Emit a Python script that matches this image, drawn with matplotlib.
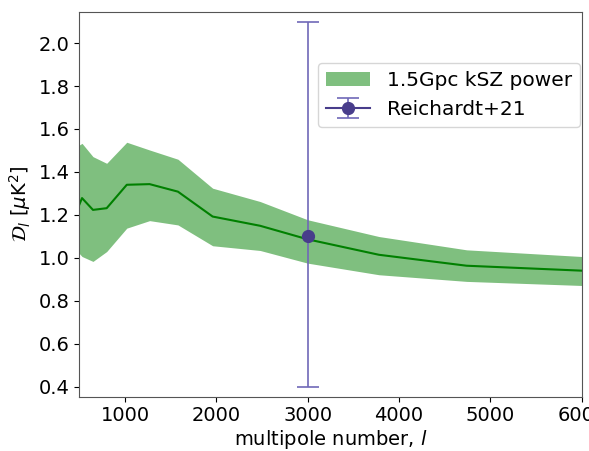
import matplotlib
matplotlib.use("Agg")
import matplotlib.pyplot as plt
import numpy as np

# kSZ power band
ell = [500, 530, 650, 800, 1020, 1270, 1580, 1960, 2480, 3000, 3780, 4740, 6000]
dl_mean = [1.247, 1.278, 1.223, 1.231, 1.340, 1.343, 1.308, 1.192, 1.149, 1.086, 1.014, 0.963, 0.940]
dl_upper = [1.525, 1.533, 1.471, 1.440, 1.538, 1.502, 1.459, 1.324, 1.262, 1.177, 1.099, 1.037, 1.006]
dl_lower = [1.020, 1.006, 0.983, 1.029, 1.138, 1.173, 1.153, 1.056, 1.034, 0.975, 0.921, 0.890, 0.871]

# Reichardt+21 measurement
obs_ell = [3000]
obs_dl = [1.1]
obs_err_lo = [0.7]
obs_err_hi = [1.0]

fig = plt.figure(figsize=(5.89, 4.51), dpi=100)
ax = fig.add_axes([0.1346, 0.1204, 0.853, 0.8541])

ax.fill_between(ell, dl_lower, dl_upper, color="green", alpha=0.5,
                linewidth=0, label="1.5Gpc kSZ power")
ax.plot(ell, dl_mean, color="green", linewidth=1.5)
ax.errorbar(obs_ell, obs_dl, yerr=[obs_err_lo, obs_err_hi], fmt="-o",
            color="#483d8b", ecolor="#7068b8", markersize=8.5, capsize=8,
            elinewidth=1.2, capthick=1.2, linewidth=1.5, label="Reichardt+21")

ax.set_xlim(500, 6000)
ax.set_ylim(0.353, 2.147)
ax.set_xticks([1000, 2000, 3000, 4000, 5000, 6000])
ax.set_yticks(np.arange(0.4, 2.01, 0.2))
ax.tick_params(labelsize=14)
ax.set_xlabel("multipole number, $l$", fontsize=14, labelpad=2)
ax.set_ylabel(r"$\mathcal{D}_l$ [$\mu$K$^2$]", fontsize=14)
for s in ax.spines.values():
    s.set_color("#555555")

ax.legend(loc="upper right", bbox_to_anchor=(1.0, 0.872), borderaxespad=0.1,
          fontsize=14.5, handlelength=2.2)

fig.savefig("out.png", dpi=100)
